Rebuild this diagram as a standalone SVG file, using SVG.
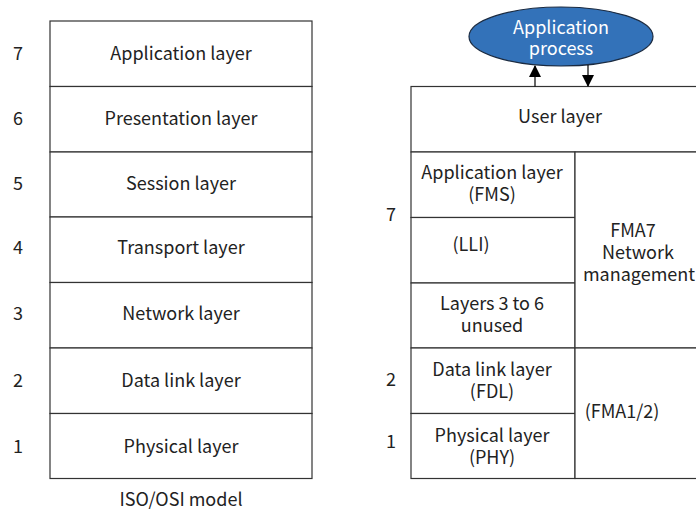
<svg xmlns="http://www.w3.org/2000/svg" width="696" height="512" viewBox="0 0 696 512">
<defs>
<marker id="ah" markerWidth="12" markerHeight="12" refX="11" refY="6" orient="auto" markerUnits="userSpaceOnUse">
<path d="M0,0 L12,6 L0,12 z" fill="#000"/>
</marker>
<style>
.b{fill:#fff;stroke:#333;stroke-width:1.2}
.t{font-family:"Noto Sans CJK SC","Noto Sans",sans-serif;font-size:18px;fill:#222;text-anchor:middle;dominant-baseline:central}
.w{fill:#fff}
.c{stroke:#000;stroke-width:1.2;fill:none}
</style>
</defs>
<rect width="696" height="512" fill="#fff"/>
<g id="osi">
<g id="osi7"><rect class="b" x="50" y="21" width="262" height="65.5"/><text class="t" x="181" y="52">Application layer</text><text class="t" x="18" y="52">7</text></g>
<g id="osi6"><rect class="b" x="50" y="86.5" width="262" height="65.5"/><text class="t" x="181" y="117">Presentation layer</text><text class="t" x="18" y="117">6</text></g>
<g id="osi5"><rect class="b" x="50" y="152" width="262" height="65"/><text class="t" x="181" y="182">Session layer</text><text class="t" x="18" y="182">5</text></g>
<g id="osi4"><rect class="b" x="50" y="217" width="262" height="65.5"/><text class="t" x="181" y="246">Transport layer</text><text class="t" x="18" y="246">4</text></g>
<g id="osi3"><rect class="b" x="50" y="282.5" width="262" height="65.5"/><text class="t" x="181" y="312">Network layer</text><text class="t" x="18" y="312">3</text></g>
<g id="osi2"><rect class="b" x="50" y="348" width="262" height="65.5"/><text class="t" x="181" y="379">Data link layer</text><text class="t" x="18" y="379">2</text></g>
<g id="osi1"><rect class="b" x="50" y="413.5" width="262" height="65"/><text class="t" x="181" y="445">Physical layer</text><text class="t" x="18" y="445">1</text></g>
<text class="t" x="181" y="498">ISO/OSI model</text>
</g>
<g id="app-process"><ellipse cx="561" cy="36.5" rx="92" ry="29.5" fill="#3372b9" stroke="#1a2a40" stroke-width="1.2"/><text class="t w" x="561" y="26">Application</text><text class="t w" x="561" y="47">process</text></g>
<g id="user-layer"><rect class="b" x="411" y="86.5" width="300" height="65.5"/><text class="t" x="560" y="115">User layer</text></g>
<g id="fms"><rect class="b" x="411" y="152" width="164" height="65.5"/><text class="t" x="492" y="171">Application layer</text><text class="t" x="492" y="193">(FMS)</text></g>
<g id="lli"><rect class="b" x="411" y="217.5" width="164" height="65.5"/><text class="t" x="471" y="243">(LLI)</text></g>
<g id="unused"><rect class="b" x="411" y="283" width="164" height="65"/><text class="t" x="492" y="302">Layers 3 to 6</text><text class="t" x="492" y="324">unused</text></g>
<g id="fdl"><rect class="b" x="411" y="348" width="164" height="65.5"/><text class="t" x="492" y="368">Data link layer</text><text class="t" x="492" y="390">(FDL)</text></g>
<g id="phy"><rect class="b" x="411" y="413.5" width="164" height="65"/><text class="t" x="492" y="434">Physical layer</text><text class="t" x="492" y="456">(PHY)</text></g>
<g id="fma7"><rect class="b" x="575" y="152" width="136" height="196"/><text class="t" x="633" y="229">FMA7</text><text class="t" x="638" y="251">Network</text><text class="t" x="639" y="273">management</text></g>
<g id="fma12"><rect class="b" x="575" y="348" width="136" height="130.5"/><text class="t" x="622" y="410">(FMA1/2)</text></g>
<g id="nums"><text class="t" x="391" y="213">7</text><text class="t" x="391" y="378">2</text><text class="t" x="391" y="440">1</text></g>
<g id="connectors">
<line class="c" x1="535" y1="86.5" x2="535" y2="66" marker-end="url(#ah)"/>
<line class="c" x1="588" y1="65" x2="588" y2="86" marker-end="url(#ah)"/>
</g>
</svg>
